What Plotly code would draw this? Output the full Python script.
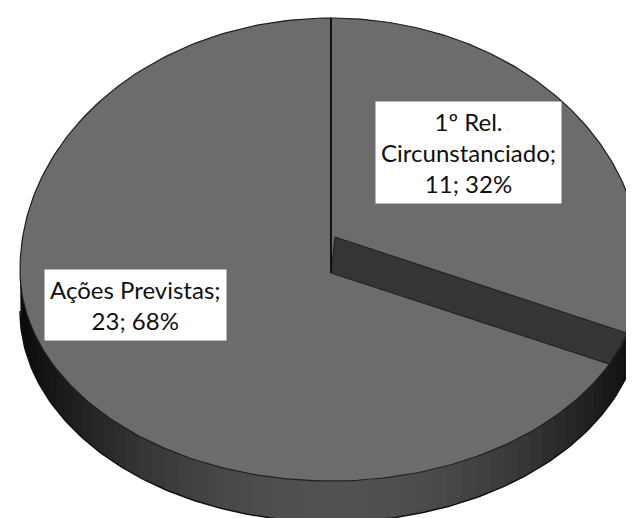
import numpy as np
import plotly.graph_objects as go

# ---- data ----
labels = ["1º Rel.<br>Circunstanciado", "Ações Previstas"]
values = [11, 23]
label_pos = [(460, 144), (127, 297)]  # label box centres (pixel space)

total = sum(values)
pcts = [round(v * 100 / total) for v in values]

# ---- geometry / style ----
W, H = 634, 518
CX, CY, RX, RY_TOP, RY_BOT, DEPTH = 323, 262, 311, 252, 211, 41
FACE = "#6c6c6c"


def ellipse(theta_deg):
    t = np.radians(np.asarray(theta_deg, dtype=float))
    s, c = np.sin(t), np.cos(t)
    ry = np.where(c > 0, RY_TOP, RY_BOT)
    return CX + RX * s, CY - ry * c


fig = go.Figure()

# side wall (front half), shaded overlapping segments
n = 60
edges = np.linspace(90, 270, n + 1)
for i in range(n):
    a = np.linspace(max(88, edges[i] - 0.8), min(272, edges[i + 1] + 0.8), 6)
    xt, yt = ellipse(a)
    xs = np.concatenate([xt, xt[::-1]])
    ys = np.concatenate([yt, (yt + DEPTH)[::-1]])
    mid = (edges[i] + edges[i + 1]) / 2
    k = np.sin(np.radians(mid - 90)) ** 2.2
    g = int(12 + 70 * k)
    col = f"rgb({g},{g},{g})"
    fig.add_trace(go.Scatter(x=xs, y=ys, mode="lines", fill="toself",
                             fillcolor=col, line=dict(width=0),
                             hoverinfo="skip", showlegend=False))

# side wall outline
a = np.linspace(90, 270, 200)
xt, yt = ellipse(a)
fig.add_trace(go.Scatter(x=xt, y=yt + DEPTH, mode="lines",
                         line=dict(color="#111", width=1.5),
                         hoverinfo="skip", showlegend=False))

# top face slices
start = 0.0
slice_angles = []
for v in values:
    span = 360.0 * v / total
    a = np.linspace(start, start + span, 200)
    xs, ys = ellipse(a)
    xs = np.concatenate([[CX], xs, [CX]])
    ys = np.concatenate([[CY], ys, [CY]])
    fig.add_trace(go.Scatter(x=xs, y=ys, mode="lines", fill="toself",
                             fillcolor=FACE, line=dict(color="#1e1e1e", width=1.2),
                             hoverinfo="skip", showlegend=False))
    slice_angles.append((start, start + span))
    start += span

# cut wall band of first slice (visible dark strip)
end1 = slice_angles[0][1]
px, py = ellipse(end1)
qx, qy = ellipse(end1 - 9)
fig.add_trace(go.Scatter(x=[CX, float(px), float(qx), CX + 4, CX],
                         y=[CY + 3, float(py), float(qy), CY - 33, CY + 3],
                         mode="lines", fill="toself", fillcolor="#353535",
                         line=dict(color="#1e1e1e", width=1),
                         hoverinfo="skip", showlegend=False))

# vertical radius line at 12 o'clock
tx, ty = ellipse(0)
fig.add_trace(go.Scatter(x=[CX, CX], y=[float(ty), CY + 3], mode="lines",
                         line=dict(color="#111", width=2),
                         hoverinfo="skip", showlegend=False))

# labels
for lab, v, p, (lx, ly) in zip(labels, values, pcts, label_pos):
    fig.add_annotation(x=lx, y=ly, xref="x", yref="y", showarrow=False,
                       text=f"{lab};<br>{v}; {p}%", align="center",
                       font=dict(family="Lato", size=24, color="#111"),
                       bgcolor="white", borderpad=5)

fig.update_layout(width=W, height=H, margin=dict(l=0, r=0, t=0, b=0),
                  paper_bgcolor="white", plot_bgcolor="white",
                  xaxis=dict(range=[0, W], visible=False, fixedrange=True),
                  yaxis=dict(range=[H, 0], visible=False, fixedrange=True),
                  showlegend=False)

fig.write_html("out.html")
